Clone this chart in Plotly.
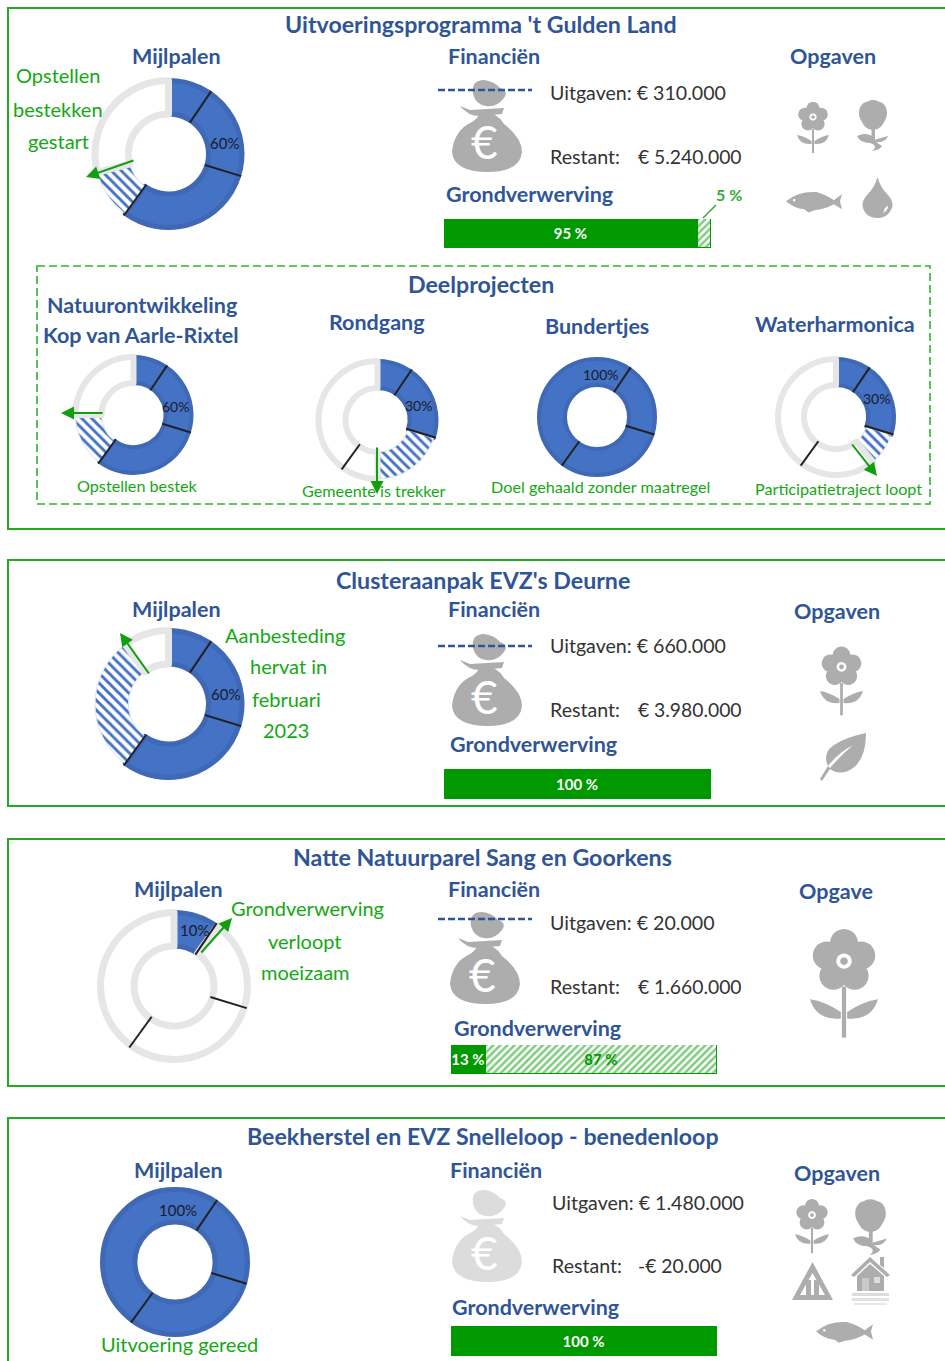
import math, re
import plotly.graph_objects as go

W, H = 945, 1361
BLUE, BLUE_EDGE, GREY_RING = "#4472c4", "#3f68b5", "#e6e6e6"
HEAD, GREEN_TXT, GREEN_BAR, ICON = "#2f5597", "#14a814", "#009900", "#adadad"
FONT = "Lato"

# ---------- data ----------
MILESTONE_MARKS = [0.095, 0.297, 0.60]
PIE_LABELS = ["gereed", "loopt", "open"]
MAIN_PIE_VALUES = [[60, 11, 29], [60, 30, 10], [10, 0, 90], [100, 0, 0]]
SUB_PIE_VALUES = [[60, 15, 25], [30, 20, 50], [100, 0, 0], [30, 9, 61]]
MAIN_PCT = ["60%", "60%", "10%", "100%"]
SUB_PCT = ["60%", "30%", "100%", "30%"]
BAR_DONE = [95, 100, 13, 100]
BAR_OPEN = [5, 0, 87, 0]
SPENT = ["€ 310.000", "€ 660.000", "€ 20.000", "€ 1.480.000"]
LEFT = ["€ 5.240.000", "€ 3.980.000", "€ 1.660.000", "-€ 20.000"]
TITLES = ["Uitvoeringsprogramma 't Gulden Land", "Clusteraanpak EVZ's Deurne",
          "Natte Natuurparel Sang en Goorkens", "Beekherstel en EVZ Snelleloop - benedenloop"]
SUB_NAMES = ["Natuurontwikkeling", "Kop van Aarle-Rixtel", "Rondgang", "Bundertjes", "Waterharmonica"]
SUB_NOTES = ["Opstellen bestek", "Gemeente is trekker", "Doel gehaald zonder maatregel", "Participatietraject loopt"]

fx = lambda x: x / W
fy = lambda y: 1 - y / H
shapes, annos, traces = [], [], []


def text(s, x, y, size=15, color=HEAD, bold=False, anchor="center"):
    if bold:
        s = "<b>" + s + "</b>"
    annos.append(dict(text=s, x=fx(x), y=fy(y), xref="paper", yref="paper", showarrow=False,
                      xanchor=anchor, yanchor="middle", font=dict(family=FONT, size=size, color=color)))


def arrow(x0, y0, x1, y1):
    annos.append(dict(text="", x=fx(x1), y=fy(y1), ax=x0 - x1, ay=y0 - y1, xref="paper", yref="paper",
                      axref="pixel", ayref="pixel", showarrow=True, arrowhead=2, arrowsize=1.3,
                      arrowwidth=2, arrowcolor="#0f9f0f"))


def line(x0, y0, x1, y1, color, width, dash=None):
    shapes.append(dict(type="line", xref="paper", yref="paper", x0=fx(x0), y0=fy(y0), x1=fx(x1), y1=fy(y1),
                       line=dict(color=color, width=width, dash=dash or "solid")))


def rect(x0, y0, x1, y1, color, width, dash=None):
    shapes.append(dict(type="rect", xref="paper", yref="paper", x0=fx(x0), y0=fy(y0), x1=fx(x1), y1=fy(y1),
                       line=dict(color=color, width=width, dash=dash or "solid")))


def ell(cx, cy, rx, ry=None):
    ry = ry or rx
    pts = [(cx + rx * math.cos(i * math.pi / 14), cy + ry * math.sin(i * math.pi / 14)) for i in range(28)]
    return "M" + " L".join(f"{a:.2f} {b:.2f}" for a, b in pts) + " Z"


PETALS = [ell(16 + 8.5 * math.cos(math.radians(a)), 17 + 8.5 * math.sin(math.radians(a)), 6.6)
          for a in (-90, -18, 54, 126, 198)]
ICONS = {
    "flower": (32, 53, [(p, None) for p in PETALS] + [
        (ell(16, 17, 6), None), (ell(16, 17, 3.6), "#fff"), (ell(16, 17, 1.8), None),
        ("M15 29 L17 29 L17 53 L15 53 Z", None),
        ("M14.5 41 Q7 36 0 35 Q3 45 14.5 44 Z", None), ("M17.5 41 Q25 36 32 35 Q29 45 17.5 44 Z", None)]),
    "tree": (32, 55, [(ell(16, 17, 12.5, 15), None), (ell(10, 15, 8, 11), None), (ell(22, 15, 8, 11), None),
                      ("M14.5 28 L18 28 L18 42 L14.5 42 Z", None),
                      ("M0 38 Q8 34 15 38 L17 42 L31 38 Q28 45 19 44 L25 48 Q23 52 15 53 Q22 48 13 45 Q3 45 0 38 Z", None)]),
    "fish": (55, 22, [("M0 11 Q12 1 30 2 Q40 5 47 10 L55 4 L53 11 L55 19 L47 14 Q38 19 28 20 L22 22 L18 19 Q8 18 0 11 Z", None),
                      (ell(8, 10, 1.2), "#fff")]),
    "drop": (31, 41, [("M15.5 0 Q18 10 26 18 Q31 24 30.5 29 Q27 41 15.5 41 Q3 41 0.5 29 Q0 24 5 18 Q13 10 15.5 0 Z", None),
                      ("M23 31 Q26 30 26 27 Q27 33 21 36 Z", "#fff")]),
    "leaf": (46, 48, [("M46 0 Q46 30 28 38 Q18 42 10 36 L2 48 L0 46 L8 33 Q2 20 14 12 Q26 4 46 0 Z", None),
                      ("M8 33 Q18 20 33 12 Q20 23 10 35 Z", "#fff")]),
    "warning": (41, 38, [("M20.5 0 L41 38 L0 38 Z M20.5 11 L8 33 L33 33 Z", None),
                         ("M14 33 L14 22 Q14 18 18 18 L19 18 L19 33 Z", None),
                         ("M27 33 L27 22 Q27 18 23 18 L22 18 L22 33 Z", None)]),
    "house": (39, 48, [("M0 18 L19 0 L39 18 L36 20 L19 5 L3 20 Z", None), ("M29 0 L33 0 L33 11 L29 8 Z", None),
                       ("M6 19 L19 7 L33 19 L33 34 L6 34 Z", None),
                       ("M11 21 L18 21 L18 34 L11 34 Z", "#c9c9c9"), ("M23 20 L29 20 L29 26 L23 26 Z", "#ddd"),
                       ("M1 36 L38 36 L38 39 L1 39 Z", "#dcdcdc"), ("M1 41 L38 41 L38 44 L1 44 Z", "#e2e2e2"),
                       ("M3 46 L36 46 L36 48 L3 48 Z", "#e8e8e8")]),
    "bag": (70, 92, [("M21 14 Q19 0 32 0 Q42 1 48 8 Q57 11 52 18 Q44 28 34 26 Q24 25 21 14 Z", None),
                     ("M8 26 L18 30 L52 28 L50 34 L28 36 Q16 36 8 26 Z", None),
                     ("M28 33 Q44 30 52 44 Q70 58 70 72 Q68 92 36 92 Q2 92 0 72 Q2 50 20 42 Q26 38 28 33 Z", None)]),
}


def icon(name, x0, y0, w, color=ICON):
    bw, bh, parts = ICONS[name]
    s = w / bw
    for path, col in parts:
        i = [0]

        def rep(m):
            v = float(m.group(0))
            r = fx(x0 + s * v) if i[0] % 2 == 0 else fy(y0 + s * v)
            i[0] += 1
            return f"{r:.5f}"
        shapes.append(dict(type="path", xref="paper", yref="paper", layer="below",
                           path=re.sub(r"-?\d+\.?\d*", rep, path), fillcolor=col or color,
                           line=dict(width=0)))


def donut(vals, cx, cy, R, ring, hole_r):
    r = R + 1 - ring / 2
    traces.append(go.Pie(
        values=vals, labels=PIE_LABELS, sort=False, direction="clockwise", rotation=0, hole=hole_r / r,
        textinfo="none", hoverinfo="label+value", showlegend=False,
        domain=dict(x=[fx(cx - r), fx(cx + r)], y=[fy(cy + r), fy(cy - r)]),
        marker=dict(colors=[BLUE, "#ffffff", "#ffffff"],
                    line=dict(color=[BLUE_EDGE, "#dbe2f0", GREY_RING],
                              width=[ring - 2, 1 if vals[1] else 0, ring if vals[2] else 0]),
                    pattern=dict(shape=["", "\\", ""], fgcolor=BLUE, bgcolor="#ffffff", size=7, solidity=0.42))))
    for m in MILESTONE_MARKS:
        a = 2 * math.pi * m
        sx, sy = math.sin(a), -math.cos(a)
        line(cx + sx * (hole_r - 2), cy + sy * (hole_r - 2), cx + sx * R, cy + sy * R, "#222222", 2)


bar_layout = {}


def bar(k, done, open_, x0, x1, y0, y1):
    n = k + 2
    xa, ya = f"x{n}", f"y{n}"
    traces.append(go.Bar(x=[done], y=["g"], orientation="h", xaxis=xa, yaxis=ya, showlegend=False,
                         marker=dict(color=GREEN_BAR, line=dict(color=GREEN_BAR, width=1)),
                         text=[f"{done} %"], textposition="inside", insidetextanchor="middle", textangle=0,
                         constraintext="none", cliponaxis=False,
                         textfont=dict(family=FONT, size=15, color="#ffffff", weight="bold")))
    if open_:
        traces.append(go.Bar(x=[open_], y=["g"], orientation="h", xaxis=xa, yaxis=ya, showlegend=False,
                             marker=dict(color="#ffffff", line=dict(color=GREEN_BAR, width=1),
                                         pattern=dict(shape="/", fgcolor=GREEN_BAR, bgcolor="#ffffff", size=5, solidity=0.5)),
                             text=[f"{open_} %" if open_ > 20 else ""], textposition="inside",
                             insidetextanchor="middle", textangle=0, constraintext="none",
                             textfont=dict(family=FONT, size=15, color=GREEN_BAR, weight="bold")))
    bar_layout[f"xaxis{n}"] = dict(domain=[fx(x0), fx(x1)], range=[0, 100], visible=False, anchor=ya, fixedrange=True)
    bar_layout[f"yaxis{n}"] = dict(domain=[fy(y1), fy(y0)], visible=False, anchor=xa, fixedrange=True)


# ---------- frames ----------
for top, bot in ((8, 529), (560, 806), (839, 1086), (1118, 1375)):
    rect(8, top, 960, bot, "#22aa22", 2)
rect(37, 266, 930, 504, "#2db52d", 1.6, "8px,4px")

# ---------- section layout ----------
SEC = [
    dict(t=26, m=(176, 58), f=(494, 58), o=("Opgaven", 833, 58), g=(529, 195), bar=(444, 711, 219, 248),
         pie=(168.5, 154, 76), pct=(224, 143), up=92.5, rp=156.5, tx=548, bag=(452, 80), line=90),
    dict(t=581, m=(176, 610), f=(494, 610), o=("Opgaven", 837, 613), g=(533, 745), bar=(444, 711, 769, 799),
         pie=(168.5, 704, 76), pct=(225, 694), up=645.5, rp=709.5, tx=548, bag=(452, 634), line=646),
    dict(t=858, m=(178, 890), f=(494, 890), o=("Opgave", 836, 892), g=(537, 1029), bar=(451, 717, 1045, 1074),
         pie=(174, 986, 76), pct=(194, 930), up=922.5, rp=986.5, tx=548, bag=(450, 912), line=919),
    dict(t=1137, m=(178, 1171), f=(496, 1171), o=("Opgaven", 837, 1174), g=(535, 1308), bar=(451, 717, 1326, 1356),
         pie=(175, 1262, 75), pct=(178, 1210), up=1202.5, rp=1265.5, tx=550, bag=(452, 1190), line=None),
]
DY = -1.5
for k, s in enumerate(SEC):
    text(TITLES[k], 481 + (2 if k else 0), s["t"] + DY, 23.2, HEAD, True)
    for label, pos in (("Mijlpalen", s["m"]), ("Financiën", s["f"]), (s["o"][0], s["o"][1:]), ("Grondverwerving", s["g"])):
        text(label, pos[0], pos[1] + DY, 21.5, HEAD, True)
    cx, cy, R = s["pie"]
    donut(MAIN_PIE_VALUES[k], cx, cy, R, 7, 40)
    text(MAIN_PCT[k], s["pct"][0], s["pct"][1], 15, "#1a1a2e")
    bar(k, BAR_DONE[k], BAR_OPEN[k], *s["bar"])
    text("Uitgaven: " + SPENT[k], s["tx"], s["up"], 19.6, "#333333", anchor="left")
    text("Restant:", s["tx"], s["rp"], 19.6, "#333333", anchor="left")
    text(LEFT[k], 636, s["rp"], 19.3, "#333333", anchor="left")
    bx, by = s["bag"]
    icon("bag", bx, by, 70, ICON if k < 3 else "#dcdcdc")
    text("€", bx + 32, by + 62, 46, "#ffffff")
    if s["line"]:
        line(438, s["line"], 532, s["line"], HEAD, 2.5, "7px,3px")

# ---------- section notes ----------
for t, x, y in (("Opstellen", 58, 77), ("bestekken", 58, 110), ("gestart", 58, 142),
                ("Aanbesteding", 285, 636), ("hervat in", 288, 668), ("februari", 286, 700), ("2023", 286, 732),
                ("Grondverwerving", 307, 909), ("verloopt", 305, 942), ("moeizaam", 305, 973),
                ("Uitvoering gereed", 179, 1345)):
    text(t, x, y + DY, 20, GREEN_TXT)
arrow(135, 160, 86, 177)
arrow(150, 675, 120, 633)
arrow(200, 954, 232, 918)
text("5 %", 729, 194.5, 16, "#33aa33", True)
line(703, 218, 716, 205, "#33aa33", 1.5)

# ---------- deelprojecten ----------
text("Deelprojecten", 481, 285 + DY, 23.2, HEAD, True)
SUB_GEOM = [(133.5, 415, 60), (377.5, 420, 61), (597, 417, 60), (836, 417, 60)]
SUB_PCT_POS = [(175, 407), (418, 405), (601, 374), (876, 399)]
SUB_NOTE_POS = [(137, 487), (374, 492), (600, 488), (838, 490)]
SUB_HEAD_POS = [(142, 307), (141, 336), (377, 323), (597, 328), (835, 325)]
for i in range(4):
    cx, cy, R = SUB_GEOM[i]
    donut(SUB_PIE_VALUES[i], cx, cy, R, 6, 32)
    text(SUB_PCT[i], *SUB_PCT_POS[i], 14, "#1a1a2e")
    text(SUB_NOTES[i], SUB_NOTE_POS[i][0], SUB_NOTE_POS[i][1] + DY, 16.2, GREEN_TXT)
for name, pos in zip(SUB_NAMES, SUB_HEAD_POS):
    text(name, pos[0], pos[1] + DY, 21.5, HEAD, True)
arrow(104, 413, 61, 413)
arrow(377, 446, 377, 494)
arrow(851, 443, 877, 476)

# ---------- icons ----------
for name, x, y, w in (("flower", 797, 100, 32), ("tree", 857, 98, 32), ("fish", 786, 190, 56), ("drop", 862, 177, 31),
                      ("flower", 820, 644, 43), ("leaf", 820, 733, 46), ("flower", 810, 925, 68),
                      ("flower", 795, 1197, 34), ("tree", 853, 1197, 35), ("warning", 792, 1262, 41),
                      ("house", 851, 1257, 39), ("fish", 816, 1320, 57)):
    icon(name, x, y, w)

fig = go.Figure(traces)
fig.update_layout(width=W, height=H, margin=dict(l=0, r=0, t=0, b=0), paper_bgcolor="#ffffff",
                  plot_bgcolor="#ffffff", barmode="stack", bargap=0, shapes=shapes, annotations=annos,
                  showlegend=False, font=dict(family=FONT), **bar_layout)
fig.write_html("out.html", config=dict(displayModeBar=False),
               post_script="document.body.style.margin='0';document.documentElement.style.overflow='hidden';")
